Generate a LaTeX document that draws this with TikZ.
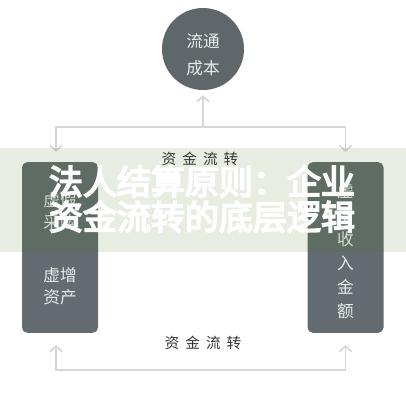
\documentclass[tikz,border=0pt]{standalone}
\usepackage{fontspec}
\setmainfont{Noto Sans CJK SC}
\newfontfamily\cjkheavy[FakeBold=5]{Noto Sans CJK SC}
\usetikzlibrary{arrows.meta}

\definecolor{boxgrey}{HTML}{646C71}
\definecolor{circgrey}{HTML}{60676B}
\definecolor{linegrey}{HTML}{D6D6D6}
\definecolor{bandgreen}{RGB}{62,113,13}
\definecolor{labelgrey}{HTML}{333333}
\definecolor{boxtext}{HTML}{E8EAEA}

\tikzset{
  conn/.style={draw=linegrey, line width=1.2pt, -{Straight Barb[length=4pt,width=9pt]}},
  fundbox/.style={fill=boxgrey, rounded corners=4pt, minimum width=57pt, minimum height=128pt, inner sep=0pt},
  flowlabel/.style={text=labelgrey, font=\fontsize{11}{13}\selectfont},
  boxlabel/.style={text=boxtext, font=\fontsize{12.5}{16.5}\selectfont, align=center},
}

\begin{document}
\begin{tikzpicture}[x=0.75pt, y=-0.75pt]

  \fill[white] (0,0) rectangle (406,400);
  \useasboundingbox (0,0) rectangle (406,400);

  % Kosten oben
  \node[circle, fill=circgrey, minimum size=61.5pt, inner sep=0pt] (cost) at (203,49) {};
  \node[text=boxtext, font=\fontsize{12.5}{20}\selectfont, align=center] (costtext) at (203,55) {流通\\成本};

  % Boxen links und rechts
  \node[fundbox] (lbox) at (60,247.5) {};
  \node[fundbox] (rbox) at (345.5,247.5) {};

  \node[boxlabel] (fake) at (60,211) {虚假\\采购};
  \node[boxlabel] (asset) at (60,286) {虚增\\资产};
  \node[boxlabel, font=\fontsize{12.5}{18}\selectfont] (income) at (345.5,251) {虚\\增\\收\\入\\金\\额};

  % Verbindungen
  \coordinate (topjoin) at (203,127);
  \coordinate (botjoin) at (203,370);

  \draw[conn, shorten >=3.75pt] (topjoin) -- (cost);
  \draw[conn, shorten >=7.5pt] (topjoin) -| ([xshift=-3pt]lbox.north);
  \draw[conn, shorten >=7.5pt] (topjoin) -| (rbox.north);
  \draw[conn, shorten >=9pt] (botjoin) -| ([xshift=-3pt]lbox.south);
  \draw[conn, shorten >=9pt] (botjoin) -| (rbox.south);

  \node[flowlabel] (flowtop) at (200,159) {资\hspace{4.5pt}金\hspace{4.5pt}流\hspace{4.5pt}转};
  \node[flowlabel] (flowbot) at (203,343) {资\hspace{4.5pt}金\hspace{4.5pt}流\hspace{4.5pt}转};

  % Banner
  \fill[bandgreen, fill opacity=0.12] (0,148) rectangle (406,252);
  \node[text=white, text opacity=0.95, align=center, font=\cjkheavy\fontsize{25.5}{26.5}\selectfont] (title) at (202,199) {法人结算原则：企业\\资金流转的底层逻辑};

\end{tikzpicture}
\end{document}
